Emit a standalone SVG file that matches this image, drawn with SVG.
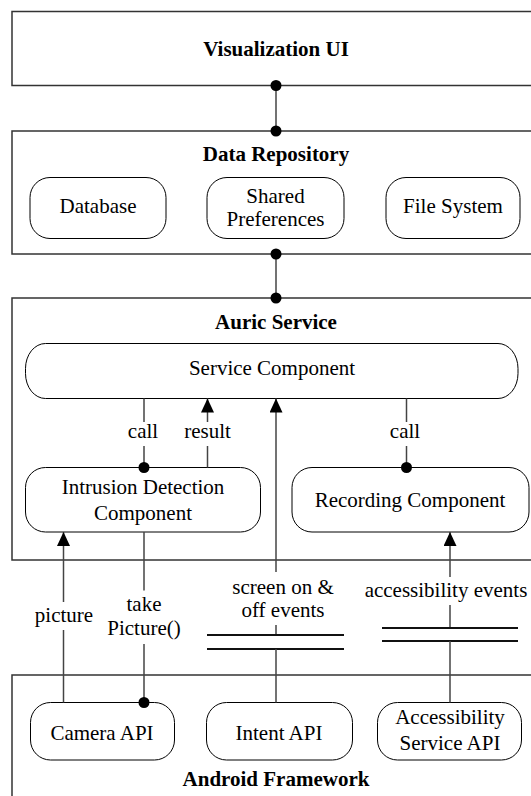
<svg xmlns="http://www.w3.org/2000/svg" width="531" height="796" viewBox="0 0 531 796">
<style>
.box{fill:#fff;stroke:#333;stroke-width:1.5}
.node{fill:#fff;stroke:#000;stroke-width:1}
.t{font-family:"Liberation Serif","Times New Roman",serif;font-size:21px;fill:#000;text-anchor:middle}
.b{font-weight:bold}
.ln{stroke:#444;stroke-width:1.5;fill:none}
.bar{stroke:#111;stroke-width:2;fill:none}
.dot{fill:#000}
</style>
<defs>
<marker id="arr" markerWidth="14" markerHeight="13" refX="14" refY="6.5" orient="auto" markerUnits="userSpaceOnUse"><path d="M0,0 L14,6.5 L0,13 z" fill="#000"/></marker>
</defs>
<rect width="531" height="796" fill="#fff"/>
<g id="visualization-ui"><rect class="box" x="12" y="11.5" width="528" height="74"/><text class="t b" x="276" y="55.5">Visualization UI</text></g>
<g id="data-repository"><rect class="box" x="12" y="131" width="528" height="123"/><text class="t b" x="276" y="161">Data Repository</text></g>
<g id="database"><rect class="node" x="30" y="177.5" width="136" height="61" rx="20" ry="20"/><text class="t" x="98" y="213">Database</text></g>
<g id="shared-preferences"><rect class="node" x="207" y="177.5" width="137" height="61" rx="20" ry="20"/><text class="t" x="275.5" y="203">Shared</text><text class="t" x="275.5" y="226">Preferences</text></g>
<g id="file-system"><rect class="node" x="386" y="177.5" width="134" height="61" rx="20" ry="20"/><text class="t" x="453" y="213">File System</text></g>
<g id="auric-service"><rect class="box" x="12" y="298" width="528" height="262"/><text class="t b" x="276" y="329">Auric Service</text></g>
<g id="service-component"><rect class="node" x="25.5" y="343.5" width="492.5" height="55" rx="20" ry="25"/><text class="t" x="272" y="375">Service Component</text></g>
<g id="intrusion-detection"><rect class="node" x="25.5" y="467.5" width="235" height="64.5" rx="20" ry="20"/><text class="t" x="143" y="494">Intrusion Detection</text><text class="t" x="143" y="520">Component</text></g>
<g id="recording-component"><rect class="node" x="292" y="467.5" width="237" height="64.5" rx="20" ry="20"/><text class="t" x="410" y="507">Recording Component</text></g>
<g id="android-framework"><rect class="box" x="12" y="675" width="528" height="140"/><text class="t b" x="276" y="786">Android Framework</text></g>
<g id="camera-api"><rect class="node" x="30.5" y="702.5" width="144" height="57.5" rx="20" ry="20"/><text class="t" x="102" y="740">Camera API</text></g>
<g id="intent-api"><rect class="node" x="206.5" y="702.5" width="146" height="57.5" rx="20" ry="20"/><text class="t" x="279" y="740">Intent API</text></g>
<g id="accessibility-service-api"><rect class="node" x="377.5" y="702.5" width="144" height="57.5" rx="20" ry="20"/><text class="t" x="450" y="724">Accessibility</text><text class="t" x="450" y="750">Service API</text></g>
<g id="connectors">
<line class="ln" x1="276" y1="85.5" x2="276" y2="131"/><circle class="dot" cx="276" cy="85.5" r="5.5"/><circle class="dot" cx="276" cy="131" r="5.5"/>
<line class="ln" x1="276" y1="254" x2="276" y2="298"/><circle class="dot" cx="276" cy="254" r="5.5"/><circle class="dot" cx="276" cy="298" r="5.5"/>
<line class="ln" x1="144" y1="398.5" x2="144" y2="422"/><line class="ln" x1="144" y1="446" x2="144" y2="467.5"/><circle class="dot" cx="144" cy="467.5" r="5.5"/>
<text class="t" x="143" y="438">call</text>
<line class="ln" x1="207.5" y1="467.5" x2="207.5" y2="446"/><line class="ln" x1="207.5" y1="422" x2="207.5" y2="398.5" marker-end="url(#arr)"/>
<text class="t" x="207.5" y="438">result</text>
<line class="ln" x1="406.5" y1="398.5" x2="406.5" y2="422"/><line class="ln" x1="406.5" y1="446" x2="406.5" y2="467.5"/><circle class="dot" cx="406.5" cy="467.5" r="5.5"/>
<text class="t" x="405" y="438">call</text>
<line class="ln" x1="276" y1="572" x2="276" y2="398.5" marker-end="url(#arr)"/>
<text class="t" x="283" y="594">screen on &amp;</text><text class="t" x="283" y="617">off events</text>
<line class="ln" x1="276" y1="625" x2="276" y2="635"/>
<line class="bar" x1="207" y1="635" x2="344" y2="635"/><line class="bar" x1="207" y1="649" x2="344" y2="649"/>
<line class="ln" x1="276" y1="649" x2="276" y2="702.5"/>
<line class="ln" x1="450" y1="577" x2="450" y2="532" marker-end="url(#arr)"/>
<text class="t" x="446" y="597">accessibility events</text>
<line class="ln" x1="450" y1="605" x2="450" y2="628"/>
<line class="bar" x1="382" y1="628" x2="518" y2="628"/><line class="bar" x1="382" y1="641" x2="518" y2="641"/>
<line class="ln" x1="450" y1="641" x2="450" y2="702.5"/>
<line class="ln" x1="63.5" y1="602" x2="63.5" y2="532" marker-end="url(#arr)"/><line class="ln" x1="63.5" y1="630" x2="63.5" y2="702.5"/>
<text class="t" x="64" y="622">picture</text>
<line class="ln" x1="144" y1="532" x2="144" y2="590.5"/><line class="ln" x1="144" y1="644" x2="144" y2="702.5"/><circle class="dot" cx="144" cy="702.5" r="5.5"/>
<text class="t" x="144" y="611">take</text><text class="t" x="144" y="635">Picture()</text>
</g>
</svg>
